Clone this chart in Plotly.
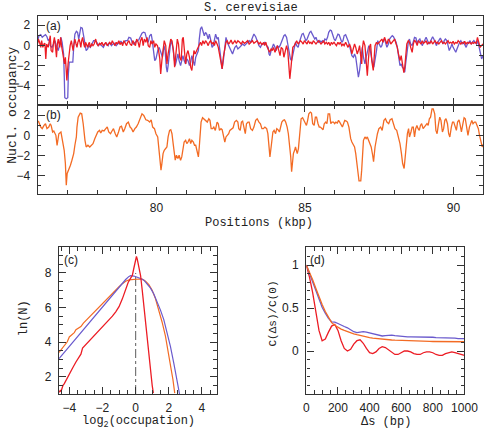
import plotly.graph_objects as go

# ---------------- data ----------------
# panel (a), purple trace: (position kbp, log2 nucleosome occupancy)
purple_a = [
    (76.00, 0.50), (76.04, 0.95), (76.10, 1.05), (76.15, 0.79), (76.21, 0.95), (76.26, 1.05), (76.31, 0.85), (76.35, 0.46), (76.39, 0.62), (76.42, -0.03),
    (76.48, -0.20), (76.53, 0.13), (76.58, 0.46), (76.64, -0.20), (76.69, -0.52), (76.74, 0.13), (76.78, 0.79), (76.82, 0.30), (76.87, -0.85), (76.89, -2.82),
    (76.91, -5.18), (76.96, -5.28), (77.01, -5.18), (77.03, -2.82), (77.06, -1.67), (77.12, -1.67), (77.18, -1.67), (77.21, -0.20), (77.25, 1.11), (77.30, 1.38),
    (77.34, 1.28), (77.38, 0.62), (77.42, 1.61), (77.45, 1.77), (77.50, 1.70), (77.56, 0.62), (77.59, -0.20), (77.63, -0.52), (77.68, -0.36), (77.72, -0.03),
    (77.77, -0.20), (77.83, 0.13), (77.88, 0.46), (77.94, 0.46), (77.99, 0.30), (78.04, -0.03), (78.10, 0.13), (78.15, -0.03), (78.21, -0.20), (78.26, 0.13),
    (78.31, 0.20), (78.37, -0.03), (78.42, 0.30), (78.48, -0.03), (78.53, 0.13), (78.59, 0.20), (78.64, -0.03), (78.69, 0.13), (78.75, 0.30), (78.80, 0.39),
    (78.86, 0.20), (78.91, 0.30), (78.96, 0.46), (79.02, 0.46), (79.07, 0.79), (79.13, 0.72), (79.18, 0.30), (79.23, 0.13), (79.29, 0.30), (79.34, 0.46),
    (79.40, 0.52), (79.45, 0.80), (79.51, 1.20), (79.56, 1.30), (79.61, 1.25), (79.67, 0.62), (79.72, 0.30), (79.77, 0.95), (79.82, 1.11), (79.85, 0.62),
    (79.90, -0.85), (79.94, -1.51), (79.98, -1.34), (80.04, -0.52), (80.09, -0.20), (80.14, -0.69), (80.20, -1.18), (80.25, -0.03), (80.29, -0.52), (80.33, -2.16),
    (80.36, -2.66), (80.39, -2.00), (80.44, -0.52), (80.47, 0.13), (80.50, 0.46), (80.55, -0.20), (80.59, -1.18), (80.63, -2.00), (80.67, -1.51), (80.72, -0.85),
    (80.76, -1.51), (80.81, -2.00), (80.85, -1.51), (80.89, -1.02), (80.93, -1.51), (80.98, -1.84), (81.02, -1.34), (81.06, -1.51), (81.11, -2.00), (81.15, -1.67),
    (81.19, -1.02), (81.24, -1.67), (81.28, -2.00), (81.32, -1.18), (81.37, -0.85), (81.41, -0.52), (81.44, 0.62), (81.48, 1.61), (81.52, 1.84), (81.56, 1.44),
    (81.61, 0.95), (81.65, 1.28), (81.69, 1.11), (81.74, 0.62), (81.78, 1.11), (81.82, 0.62), (81.87, -0.20), (81.91, -0.03), (81.95, 0.46), (81.99, 1.11),
    (82.04, 0.62), (82.08, 0.79), (82.12, -0.20), (82.17, -1.67), (82.21, -2.33), (82.25, -1.51), (82.30, 0.13), (82.34, 0.79), (82.38, 0.30), (82.43, -0.03),
    (82.47, -0.36), (82.51, -0.69), (82.56, -0.85), (82.60, -0.52), (82.64, -0.20), (82.69, -0.03), (82.74, -0.36), (82.80, -0.20), (82.85, -0.03), (82.90, 0.13),
    (82.96, -0.03), (83.01, 0.13), (83.07, 0.30), (83.12, 0.46), (83.17, 0.30), (83.23, 0.79), (83.28, 1.11), (83.34, 0.85), (83.39, 0.46), (83.45, -0.03),
    (83.50, -0.20), (83.55, 0.13), (83.60, 0.13), (83.65, 0.30), (83.71, -0.03), (83.76, -0.20), (83.79, -0.85), (83.82, -1.02), (83.86, -0.52), (83.90, -0.20),
    (83.94, 0.13), (83.99, -0.20), (84.03, -0.52), (84.07, -0.03), (84.12, -0.20), (84.16, -0.03), (84.20, 0.30), (84.25, 0.62), (84.29, 0.95), (84.33, 1.05),
    (84.38, 0.79), (84.42, 0.13), (84.46, -0.52), (84.51, -1.34), (84.55, -1.51), (84.59, -0.85), (84.64, -0.20), (84.68, 0.30), (84.72, -0.03), (84.77, -0.20),
    (84.81, 0.30), (84.85, 0.79), (84.90, 1.11), (84.94, 1.18), (84.98, 0.79), (85.03, 0.46), (85.07, 0.62), (85.11, 0.95), (85.16, 1.28), (85.20, 1.38),
    (85.24, 1.18), (85.28, 0.95), (85.33, 0.62), (85.37, 0.79), (85.41, 0.46), (85.46, 0.30), (85.50, 0.46), (85.54, 0.30), (85.59, 0.46), (85.63, 0.30),
    (85.67, 0.62), (85.72, 0.52), (85.76, 0.79), (85.80, 1.28), (85.85, 1.51), (85.89, 1.44), (85.93, 0.95), (85.98, 0.62), (86.02, 0.46), (86.06, 0.79),
    (86.11, 1.11), (86.15, 1.05), (86.19, 0.62), (86.24, 0.30), (86.28, 0.46), (86.32, 0.95), (86.37, 1.05), (86.41, 0.79), (86.45, 0.46), (86.50, -0.03),
    (86.54, -0.52), (86.58, -1.02), (86.63, -1.18), (86.67, -0.85), (86.71, -1.18), (86.76, -2.16), (86.80, -3.15), (86.84, -2.49), (86.89, -0.85), (86.93, -0.20),
    (86.97, -1.18), (87.02, -1.84), (87.06, -1.18), (87.10, -0.52), (87.15, -0.03), (87.19, -0.36), (87.23, -1.18), (87.28, -1.84), (87.32, -2.16), (87.36, -1.51),
    (87.41, -0.52), (87.45, 0.46), (87.50, 0.13), (87.55, -0.20), (87.59, -0.03), (87.63, 0.46), (87.68, 0.62), (87.72, 0.30), (87.76, -0.20), (87.81, 0.13),
    (87.85, 0.62), (87.89, 0.79), (87.94, 0.95), (87.98, 0.85), (88.02, 0.62), (88.07, 0.30), (88.11, -0.20), (88.15, -1.18), (88.20, -2.00), (88.24, -1.84),
    (88.28, -2.16), (88.33, -2.33), (88.36, -2.66), (88.39, -1.84), (88.43, -0.52), (88.48, 0.30), (88.52, 0.62), (88.56, 0.13), (88.61, -0.03), (88.65, 0.46),
    (88.69, 0.79), (88.74, 0.72), (88.78, 0.13), (88.82, 0.46), (88.87, 0.62), (88.91, 0.30), (88.95, -0.03), (89.00, 0.30), (89.04, 0.62), (89.08, 0.79),
    (89.13, 0.46), (89.17, 0.13), (89.21, 0.30), (89.26, 0.72), (89.30, 0.85), (89.34, 0.62), (89.39, 0.13), (89.43, -0.03), (89.47, 0.30), (89.52, 0.62),
    (89.56, 0.72), (89.60, 0.46), (89.65, 0.13), (89.69, 0.46), (89.73, 0.62), (89.78, 0.46), (89.82, -0.03), (89.86, -0.52), (89.91, -0.20), (89.95, 0.13),
    (89.99, -0.20), (90.04, -0.52), (90.08, -0.69), (90.12, -0.36), (90.17, 0.13), (90.21, 0.30), (90.25, 0.46), (90.30, 0.13), (90.34, 0.30), (90.39, -0.03),
    (90.43, -0.20), (90.47, 0.13), (90.51, 0.30), (90.56, 0.46), (90.60, 0.13), (90.64, 0.30), (90.69, 0.46), (90.73, 0.30), (90.78, 0.13), (90.82, 0.46),
    (90.86, -0.20), (90.90, -0.85), (90.95, -1.34), (91.00, -1.00),
]

# panel (a), red trace: (position kbp, log2 nucleosome occupancy)
red_a = [
    (76.00, 0.20), (76.02, 0.62), (76.06, 0.30), (76.10, -0.20), (76.13, 0.46), (76.17, -0.20), (76.21, 0.13), (76.24, 0.20), (76.27, -1.34), (76.30, 0.13),
    (76.35, -0.20), (76.39, 0.62), (76.42, 0.95), (76.45, -0.52), (76.50, -0.69), (76.53, 0.30), (76.56, 0.79), (76.60, -0.20), (76.63, -1.18), (76.66, 0.13),
    (76.69, 0.62), (76.74, -0.20), (76.77, 0.79), (76.80, -0.03), (76.83, -0.52), (76.87, -1.02), (76.90, -1.84), (76.93, -1.18), (76.96, -2.16), (76.98, -3.48),
    (77.02, -1.84), (77.05, -1.02), (77.09, -0.03), (77.13, 0.46), (77.16, -0.20), (77.19, -0.52), (77.22, 0.13), (77.25, 0.62), (77.29, 0.13), (77.32, -0.20),
    (77.35, 0.30), (77.39, 0.62), (77.42, 0.30), (77.45, -0.20), (77.48, 0.46), (77.51, 0.79), (77.55, 0.13), (77.58, -0.20), (77.61, 0.30), (77.64, -0.03),
    (77.68, -0.20), (77.71, 0.13), (77.74, 0.30), (77.77, -0.20), (77.82, 0.13), (77.86, -0.03), (77.90, 0.13), (77.95, 0.62), (77.99, 0.13), (78.03, -0.03),
    (78.08, 0.20), (78.12, 0.07), (78.16, 0.30), (78.21, -0.03), (78.25, 0.20), (78.29, 0.30), (78.34, -0.03), (78.38, 0.13), (78.42, 0.30), (78.47, 0.07),
    (78.51, 0.46), (78.55, 0.20), (78.60, -0.03), (78.64, 0.30), (78.68, 0.13), (78.73, 0.46), (78.77, 0.07), (78.81, 0.30), (78.86, -0.03), (78.90, 0.46),
    (78.94, 0.20), (78.99, -0.03), (79.03, 0.30), (79.07, 0.46), (79.11, 0.13), (79.16, -0.03), (79.20, 0.46), (79.25, 0.20), (79.29, -0.03), (79.33, 0.62),
    (79.38, 0.30), (79.42, -0.20), (79.46, 0.46), (79.51, 0.79), (79.55, -0.03), (79.59, 0.62), (79.64, 0.30), (79.68, 0.79), (79.72, -0.03), (79.77, -0.20),
    (79.81, 0.46), (79.85, 0.13), (79.90, 0.46), (79.94, -0.20), (79.98, 0.13), (80.03, -0.03), (80.07, -0.52), (80.11, -1.34), (80.14, -2.82), (80.18, -1.51),
    (80.22, -0.52), (80.26, 0.46), (80.31, -0.03), (80.35, -1.84), (80.39, -0.85), (80.44, 0.13), (80.48, 0.62), (80.52, 0.46), (80.57, -0.52), (80.61, -2.16),
    (80.65, -1.18), (80.70, 0.62), (80.74, 0.13), (80.78, -1.18), (80.83, -1.51), (80.87, 0.62), (80.90, 0.79), (80.93, -0.20), (80.98, -1.84), (81.02, -0.85),
    (81.06, -0.52), (81.11, -1.18), (81.15, -2.16), (81.19, -2.49), (81.23, -1.18), (81.26, -0.52), (81.30, -0.85), (81.35, -0.52), (81.39, -0.20), (81.43, -0.03),
    (81.48, 0.30), (81.52, -0.03), (81.56, 0.46), (81.61, 0.13), (81.65, 0.46), (81.69, 0.30), (81.74, -0.03), (81.78, 0.30), (81.82, 0.46), (81.87, 0.13),
    (81.91, 0.30), (81.95, -0.03), (81.99, 0.46), (82.04, 0.13), (82.08, -0.20), (82.12, -0.85), (82.17, -1.84), (82.21, -2.33), (82.25, -1.18), (82.30, -0.03),
    (82.34, 0.30), (82.38, 0.46), (82.43, 0.13), (82.47, 0.30), (82.51, 0.52), (82.56, 0.13), (82.60, 0.30), (82.64, 0.46), (82.69, 0.20), (82.74, 0.46),
    (82.80, 0.30), (82.85, 0.13), (82.90, 0.39), (82.96, 0.20), (83.01, 0.30), (83.07, 0.46), (83.12, 0.13), (83.17, 0.30), (83.23, 0.46), (83.28, 0.20),
    (83.34, 0.30), (83.39, 0.46), (83.45, 0.13), (83.50, 0.30), (83.55, 0.07), (83.61, 0.30), (83.64, -0.03), (83.68, 0.30), (83.73, -0.20), (83.77, -0.52),
    (83.81, -0.69), (83.86, -0.36), (83.90, -0.52), (83.94, -0.20), (83.99, -0.69), (84.03, -0.36), (84.07, -0.03), (84.12, -0.52), (84.16, -1.02), (84.20, -0.20),
    (84.25, -0.36), (84.29, -1.18), (84.33, -0.52), (84.38, -0.03), (84.42, -0.52), (84.46, -1.84), (84.49, -3.31), (84.53, -2.16), (84.56, -0.85), (84.59, -0.20),
    (84.64, -0.03), (84.68, 0.30), (84.72, 0.46), (84.77, 0.13), (84.81, 0.30), (84.85, 0.46), (84.90, 0.30), (84.94, 0.13), (84.98, 0.46), (85.03, 0.30),
    (85.07, 0.13), (85.11, 0.46), (85.16, 0.20), (85.20, 0.30), (85.24, 0.13), (85.28, 0.46), (85.33, 0.30), (85.37, 0.13), (85.41, 0.30), (85.46, 0.46),
    (85.50, 0.30), (85.54, 0.13), (85.59, 0.30), (85.63, 0.46), (85.67, 0.13), (85.72, 0.30), (85.76, 0.13), (85.80, 0.30), (85.85, -0.03), (85.89, 0.30),
    (85.93, 0.13), (85.98, 0.30), (86.02, 0.13), (86.06, -0.03), (86.11, 0.30), (86.15, 0.13), (86.19, 0.30), (86.24, -0.03), (86.28, 0.13), (86.32, -0.03),
    (86.37, 0.30), (86.41, -0.03), (86.45, -0.20), (86.50, 0.13), (86.54, -0.20), (86.58, -0.85), (86.63, -0.36), (86.67, 0.13), (86.71, -0.20), (86.76, -0.85),
    (86.80, -0.52), (86.84, -0.03), (86.87, -0.85), (86.91, -1.84), (86.94, -0.20), (86.97, 0.46), (87.02, -0.03), (87.06, -1.51), (87.10, -3.00), (87.13, -1.67),
    (87.17, -0.20), (87.21, 0.13), (87.25, -1.51), (87.30, -2.49), (87.33, -1.18), (87.36, -0.03), (87.41, 0.30), (87.45, 0.13), (87.50, 0.30), (87.55, 0.46),
    (87.59, 0.62), (87.63, 0.30), (87.68, 0.79), (87.72, 0.46), (87.76, 0.13), (87.81, 0.62), (87.85, 0.46), (87.89, 0.13), (87.94, 0.30), (87.98, 0.46),
    (88.02, 0.62), (88.07, 0.13), (88.11, -0.20), (88.15, -0.85), (88.20, -1.51), (88.24, -1.02), (88.28, -1.84), (88.33, -2.70), (88.36, -2.20), (88.39, -0.85),
    (88.43, 0.13), (88.48, 0.46), (88.52, 0.30), (88.56, -0.20), (88.61, -0.69), (88.65, 0.13), (88.69, 0.52), (88.74, 0.30), (88.78, -0.03), (88.82, 0.46),
    (88.86, 0.30), (88.91, 0.13), (88.95, 0.46), (88.99, 0.20), (89.04, 0.30), (89.08, 0.46), (89.12, 0.13), (89.17, 0.30), (89.21, 0.20), (89.25, 0.46),
    (89.30, 0.13), (89.34, 0.30), (89.38, 0.46), (89.43, 0.20), (89.47, 0.30), (89.51, 0.13), (89.56, 0.30), (89.60, 0.46), (89.64, 0.20), (89.69, 0.30),
    (89.73, 0.13), (89.77, 0.30), (89.82, 0.46), (89.86, 0.20), (89.90, 0.30), (89.95, 0.20), (89.99, 0.39), (90.03, 0.13), (90.08, 0.30), (90.12, 0.20),
    (90.16, 0.46), (90.21, 0.30), (90.25, 0.13), (90.29, 0.30), (90.34, 0.20), (90.38, 0.39), (90.42, 0.13), (90.47, 0.30), (90.51, 0.20), (90.55, 0.30),
    (90.60, 0.13), (90.64, 0.30), (90.68, 0.20), (90.73, 0.30), (90.77, 0.20), (90.81, 0.79), (90.86, 0.30), (90.90, -0.20), (90.95, 0.00), (91.00, 0.13),
]

# panel (b), orange trace: (position kbp, log2 nucleosome occupancy)
orange_b = [
    (76.00, 1.30), (76.02, 1.41), (76.10, 0.82), (76.15, 0.66), (76.21, 0.98), (76.26, 1.15), (76.31, 0.66), (76.37, 0.82), (76.42, 1.15), (76.45, 0.98),
    (76.50, 0.33), (76.54, 0.43), (76.61, 0.00), (76.65, -1.00), (76.71, 0.16), (76.78, 0.33), (76.82, -0.33), (76.89, -1.48), (76.93, -2.79), (76.96, -4.92),
    (76.99, -3.77), (77.04, -3.44), (77.10, -2.95), (77.15, -2.46), (77.21, -1.80), (77.25, -0.98), (77.30, -0.16), (77.32, 0.82), (77.36, 1.80), (77.43, 2.20),
    (77.48, 2.13), (77.53, 1.15), (77.56, 0.16), (77.59, -0.49), (77.63, -1.15), (77.69, -0.98), (77.75, -1.15), (77.80, -0.98), (77.86, -0.82), (77.92, -0.33),
    (77.97, 0.10), (78.02, 0.33), (78.08, 0.49), (78.12, 0.23), (78.17, 0.49), (78.23, 0.43), (78.29, 0.66), (78.34, 0.82), (78.39, 0.33), (78.45, 0.16),
    (78.50, 0.43), (78.55, 0.66), (78.61, 0.16), (78.66, -0.16), (78.72, 0.33), (78.77, 0.82), (78.82, 0.90), (78.88, 0.33), (78.93, 0.66), (78.99, 1.15),
    (79.05, 1.31), (79.11, 0.82), (79.16, 0.66), (79.21, 0.33), (79.27, 0.66), (79.32, 0.82), (79.38, 1.15), (79.45, 1.64), (79.51, 2.13), (79.57, 1.97),
    (79.64, 1.54), (79.70, 1.48), (79.77, 1.31), (79.82, 1.54), (79.87, 0.82), (79.93, 0.66), (79.98, 0.16), (80.04, -0.16), (80.07, -0.98), (80.11, -2.46),
    (80.15, -3.44), (80.18, -2.79), (80.22, -1.80), (80.26, -1.48), (80.31, -1.31), (80.35, -1.15), (80.39, -0.16), (80.44, 0.49), (80.48, 0.56), (80.52, 0.16),
    (80.56, -0.82), (80.59, -1.80), (80.63, -2.46), (80.67, -1.97), (80.72, -2.30), (80.76, -1.97), (80.81, -2.46), (80.85, -2.13), (80.89, -1.15), (80.93, -0.66),
    (80.98, -0.49), (81.02, -0.82), (81.06, -0.66), (81.11, -0.33), (81.15, -0.82), (81.19, -0.49), (81.24, -0.66), (81.28, -0.98), (81.32, -0.98), (81.37, -1.64),
    (81.41, -2.13), (81.44, -1.15), (81.48, 0.16), (81.50, 1.31), (81.55, 1.74), (81.61, 1.54), (81.66, 1.48), (81.71, 1.31), (81.76, 1.64), (81.80, 1.48),
    (81.84, 0.66), (81.89, 0.66), (81.93, 0.82), (81.98, 0.49), (82.04, 1.31), (82.08, 1.15), (82.12, 0.49), (82.17, 0.66), (82.21, 0.56), (82.25, -0.16),
    (82.30, -0.66), (82.34, -0.16), (82.38, 0.00), (82.43, 0.16), (82.47, 0.49), (82.53, 0.66), (82.58, 0.75), (82.63, 1.31), (82.69, 1.48), (82.74, 1.31),
    (82.77, 0.66), (82.82, 0.49), (82.86, 1.31), (82.90, 1.41), (82.95, 0.82), (82.99, 0.16), (83.03, 1.15), (83.08, 1.31), (83.12, 1.31), (83.17, 0.66),
    (83.23, 0.49), (83.28, 0.82), (83.34, 1.48), (83.39, 1.64), (83.45, 1.31), (83.50, 1.15), (83.55, 0.66), (83.60, 0.66), (83.65, 0.82), (83.71, 0.66),
    (83.75, 0.16), (83.79, -1.15), (83.82, -2.13), (83.86, -1.15), (83.89, 0.00), (83.92, 0.33), (83.96, 0.49), (84.01, 0.16), (84.05, 0.66), (84.09, 0.56),
    (84.14, 0.33), (84.18, 0.82), (84.22, 1.31), (84.27, 1.48), (84.31, 1.54), (84.35, 1.31), (84.40, 0.82), (84.44, 0.16), (84.48, -0.82), (84.52, -2.13),
    (84.55, -3.60), (84.58, -2.46), (84.61, -1.80), (84.65, -1.48), (84.68, -1.15), (84.71, -1.48), (84.74, -1.80), (84.78, -1.31), (84.81, -0.16), (84.84, 1.15),
    (84.87, 1.64), (84.92, 1.74), (84.96, 1.48), (85.00, 1.31), (85.05, 0.98), (85.09, 1.48), (85.13, 2.13), (85.18, 2.30), (85.22, 2.20), (85.26, 1.15),
    (85.31, 0.98), (85.35, 1.80), (85.39, 1.80), (85.44, 1.15), (85.48, 0.82), (85.52, 0.82), (85.57, 0.66), (85.61, 0.56), (85.65, 1.15), (85.70, 1.31),
    (85.74, 1.15), (85.78, 2.13), (85.83, 2.13), (85.87, 1.15), (85.91, 1.31), (85.96, 1.31), (86.00, 1.15), (86.04, 1.31), (86.09, 1.21), (86.13, 1.48),
    (86.17, 1.31), (86.22, 0.98), (86.26, 0.82), (86.30, 1.15), (86.34, 1.48), (86.39, 1.41), (86.43, 1.31), (86.48, 0.82), (86.50, 0.16), (86.54, -0.33),
    (86.58, -0.66), (86.63, -0.98), (86.67, -1.15), (86.71, -1.80), (86.76, -2.79), (86.79, -3.77), (86.82, -4.50), (86.88, -4.50), (86.91, -3.44), (86.94, -1.80),
    (86.97, -0.49), (87.02, -0.16), (87.06, -0.33), (87.10, -0.16), (87.15, -0.49), (87.19, -0.82), (87.23, -1.15), (87.28, -1.97), (87.31, -2.60), (87.36, -1.15),
    (87.40, -0.30), (87.44, 0.16), (87.49, 0.66), (87.55, 0.82), (87.60, 0.49), (87.66, 1.48), (87.71, 1.64), (87.76, 1.31), (87.82, 1.15), (87.87, 1.54),
    (87.93, 1.64), (87.98, 1.15), (88.03, 0.66), (88.09, 0.49), (88.14, 0.00), (88.20, -0.82), (88.25, -1.80), (88.29, -2.79), (88.34, -3.28), (88.37, -2.46),
    (88.41, -0.82), (88.45, 0.16), (88.49, 0.66), (88.52, -0.16), (88.57, 0.33), (88.61, 0.82), (88.65, 0.82), (88.69, -0.16), (88.73, 0.66), (88.77, 0.98),
    (88.81, 0.66), (88.85, 0.49), (88.89, 0.98), (88.93, 1.15), (88.98, 0.66), (89.02, 0.82), (89.06, 0.98), (89.11, 1.15), (89.15, 0.98), (89.19, 1.64),
    (89.23, 1.80), (89.28, 2.62), (89.32, 2.62), (89.37, 2.13), (89.41, 0.49), (89.45, 0.16), (89.50, 1.15), (89.54, 1.80), (89.58, 1.48), (89.63, 0.33),
    (89.67, 0.66), (89.71, 1.48), (89.75, 1.64), (89.80, 1.15), (89.84, 0.16), (89.88, -0.16), (89.93, 0.82), (89.97, 1.31), (90.01, 1.31), (90.06, 0.82),
    (90.10, 0.49), (90.14, 1.31), (90.19, 1.54), (90.23, 0.98), (90.27, 0.33), (90.32, 1.15), (90.36, 1.74), (90.40, 1.64), (90.45, 0.82), (90.49, 0.00),
    (90.54, 0.82), (90.58, 1.31), (90.62, 1.48), (90.66, 1.15), (90.71, 1.31), (90.75, 1.31), (90.80, 0.82), (90.84, 0.66), (90.88, 0.00), (90.92, -0.66),
    (90.97, -1.15), (91.00, -0.90),
]

# panel (c): ln(N) vs log2(occupation)
c_red_x = [-4.62, -4.55, -4.50, -4.45, -4.38, -4.30, -4.20, -4.10, -3.95, -3.80, -3.60, -3.40, -3.30, -3.20,
           -3.00, -2.80, -2.60, -2.40, -2.20, -2.00, -1.80, -1.60, -1.40, -1.20, -1.00, -0.80, -0.60, -0.45,
           -0.30, -0.20, -0.10, 0.00, 0.05, 0.10, 0.20, 0.30, 0.40, 0.50, 0.60, 0.70, 0.80, 0.90, 1.00, 1.07]
c_red_y = [1.10, 1.20, 1.15, 1.35, 1.50, 1.60, 1.80, 2.00, 2.30, 2.50, 2.85, 3.20, 3.30, 3.65,
           3.85, 4.05, 4.30, 4.50, 4.70, 4.90, 5.10, 5.30, 5.50, 5.75, 6.05, 6.50, 7.00, 7.45,
           7.70, 7.85, 8.30, 8.85, 8.95, 8.80, 8.35, 7.85, 7.00, 6.10, 5.10, 4.00, 3.00, 2.10, 1.50, 1.05]
c_orange_x = [-4.62, -4.50, -4.30, -4.12, -4.00, -3.85, -3.70, -3.60, -3.45, -3.30, -3.15, -3.00, -2.80, -2.60,
              -2.40, -2.20, -2.00, -1.80, -1.60, -1.40, -1.20, -1.00, -0.80, -0.60, -0.40, -0.20, 0.00, 0.20,
              0.40, 0.60, 0.80, 1.00, 1.20, 1.40, 1.60, 1.80, 1.95, 2.05, 2.15, 2.25, 2.36]
c_orange_y = [3.40, 3.55, 3.80, 4.02, 4.30, 4.45, 4.55, 4.72, 4.80, 4.90, 5.10, 5.25, 5.45, 5.62,
              5.85, 6.02, 6.25, 6.42, 6.60, 6.85, 7.03, 7.20, 7.38, 7.52, 7.60, 7.63, 7.64, 7.65,
              7.64, 7.52, 7.32, 7.00, 6.50, 5.85, 5.15, 4.35, 3.60, 3.00, 2.40, 1.85, 1.05]
c_purple_x = [-4.62, -4.40, -4.20, -4.00, -3.80, -3.60, -3.40, -3.20, -3.00, -2.80, -2.60, -2.40, -2.20, -2.00,
              -1.80, -1.60, -1.40, -1.20, -1.00, -0.80, -0.60, -0.40, -0.30, -0.10, 0.10, 0.30, 0.50, 0.70,
              0.90, 1.10, 1.30, 1.50, 1.70, 1.90, 2.10, 2.30, 2.45, 2.55, 2.65]
c_purple_y = [3.05, 3.30, 3.55, 3.75, 3.97, 4.20, 4.43, 4.65, 4.87, 5.10, 5.32, 5.55, 5.77, 6.00,
              6.22, 6.44, 6.67, 6.90, 7.13, 7.40, 7.62, 7.80, 7.84, 7.82, 7.77, 7.68, 7.58, 7.38,
              7.12, 6.78, 6.35, 5.85, 5.30, 4.60, 3.75, 2.80, 2.00, 1.50, 1.00]
c_ref_x = 0.0           # dash-dot reference at log2(occupation) = 0
c_ref_top = 8.0

# panel (d): autocorrelation C(ds)/C(0)
d_lag = [0, 20, 40, 60, 80, 100, 120, 140, 160, 180, 200, 220, 240, 260, 280, 300, 320, 340, 360, 380,
         400, 420, 440, 460, 480, 500, 520, 540, 560, 580, 600, 620, 640, 660, 680, 700, 720, 740, 760, 780,
         800, 820, 840, 860, 880, 900, 920, 940, 960, 980, 1000]
d_red = [1.00, 0.86, 0.68, 0.45, 0.24, 0.12, 0.14, 0.22, 0.29, 0.31, 0.24, 0.12, 0.03, 0.00, 0.02, 0.08, 0.12, 0.13, 0.09, 0.03,
         -0.02, -0.03, -0.01, 0.03, 0.05, 0.04, 0.01, -0.02, -0.04, -0.04, -0.02, 0.00, 0.00, -0.01, -0.03, -0.04, -0.04, -0.02, -0.01, -0.01,
         -0.02, -0.04, -0.05, -0.05, -0.03, -0.02, -0.01, -0.02, -0.03, -0.04, -0.05]
d_purple = [1.00, 0.90, 0.80, 0.70, 0.59, 0.51, 0.44, 0.38, 0.34, 0.335, 0.32, 0.30, 0.285, 0.27, 0.25, 0.225, 0.215, 0.22, 0.225, 0.22,
            0.21, 0.20, 0.19, 0.18, 0.175, 0.18, 0.185, 0.185, 0.18, 0.175, 0.17, 0.165, 0.165, 0.165, 0.165, 0.165, 0.165, 0.165, 0.16, 0.16,
            0.16, 0.155, 0.155, 0.155, 0.155, 0.15, 0.15, 0.15, 0.145, 0.145, 0.145]
d_orange = [1.00, 0.92, 0.83, 0.73, 0.63, 0.54, 0.46, 0.39, 0.33, 0.30, 0.275, 0.255, 0.24, 0.225, 0.21, 0.20, 0.19, 0.18, 0.17, 0.16,
            0.155, 0.15, 0.145, 0.14, 0.137, 0.134, 0.131, 0.128, 0.126, 0.124, 0.122, 0.12, 0.119, 0.118, 0.117, 0.116, 0.115, 0.114, 0.113, 0.112,
            0.111, 0.111, 0.11, 0.11, 0.11, 0.109, 0.109, 0.109, 0.108, 0.108, 0.108]

# ---------------- style ----------------
PURPLE = "#6a5acd"
RED = "#ec1c24"
ORANGE = "#f36b24"
FRAME = "#333333"
TICKFONT = dict(family="Liberation Sans", size=12, color="#222222")
TITLEFONT = dict(family="Liberation Mono", size=12, color="#222222")


def axis(domain, rng, anchor, minor_dtick, minor_tick0, standoff, **kw):
    d = dict(domain=domain, range=rng, anchor=anchor, showline=True, linecolor=FRAME, linewidth=1.4,
             mirror="allticks", ticks="inside", ticklen=7, tickwidth=1.1, tickcolor=FRAME,
             showgrid=False, zeroline=False, tickfont=TICKFONT, ticklabelstandoff=standoff,
             minor=dict(ticks="inside", ticklen=3.5, tickwidth=1, tickcolor=FRAME,
                        dtick=minor_dtick, tick0=minor_tick0, showgrid=False))
    d.update(kw)
    return d


def unzip(points):
    return [p[0] for p in points], [p[1] for p in points]


fig = go.Figure()
px_, py_ = unzip(purple_a)
rx_, ry_ = unzip(red_a)
ox_, oy_ = unzip(orange_b)

fig.add_trace(go.Scatter(x=px_, y=py_, mode="lines", line=dict(color=PURPLE, width=1.3), xaxis="x", yaxis="y"))
fig.add_trace(go.Scatter(x=rx_, y=ry_, mode="lines", line=dict(color=RED, width=1.3), xaxis="x", yaxis="y"))
fig.add_trace(go.Scatter(x=ox_, y=oy_, mode="lines", line=dict(color=ORANGE, width=1.3), xaxis="x2", yaxis="y2"))

fig.add_trace(go.Scatter(x=c_orange_x, y=c_orange_y, mode="lines", line=dict(color=ORANGE, width=1.2), xaxis="x3", yaxis="y3"))
fig.add_trace(go.Scatter(x=c_purple_x, y=c_purple_y, mode="lines", line=dict(color=PURPLE, width=1.2), xaxis="x3", yaxis="y3"))
fig.add_trace(go.Scatter(x=c_red_x, y=c_red_y, mode="lines", line=dict(color=RED, width=1.3), xaxis="x3", yaxis="y3"))

fig.add_trace(go.Scatter(x=d_lag, y=d_red, mode="lines", line=dict(color=RED, width=1.3), xaxis="x4", yaxis="y4"))
fig.add_trace(go.Scatter(x=d_lag, y=d_purple, mode="lines", line=dict(color=PURPLE, width=1.3), xaxis="x4", yaxis="y4"))
fig.add_trace(go.Scatter(x=d_lag, y=d_orange, mode="lines", line=dict(color=ORANGE, width=1.3), xaxis="x4", yaxis="y4"))

W, H = 500, 434
dom_x_top = [36 / W, 497 / W]
dom_y_a = [1 - 105 / H, 1 - 16 / H]
dom_y_b = [1 - 194 / H, 1 - 105 / H]
dom_x_c = [58 / W, 221.7 / W]
dom_x_d = [314 / W, 477.7 / W]
dom_y_cd = [1 - 394 / H, 1 - 247 / H]
XS, YS = 2, 4   # tick-label standoffs for x and y axes

fig.update_layout(
    width=W, height=H, margin=dict(l=0, r=0, t=0, b=0),
    paper_bgcolor="white", plot_bgcolor="white", showlegend=False,
    xaxis=axis(dom_x_top, [76, 91], "y", 1, 76, XS, tickmode="linear", tick0=80, dtick=5, showticklabels=False),
    yaxis=axis(dom_y_a, [-5.9, 2.9], "x", 1, 0, YS, tickvals=[-4, -2, 0, 2]),
    xaxis2=axis(dom_x_top, [76, 91], "y2", 1, 76, XS, tickmode="linear", tick0=80, dtick=5),
    yaxis2=axis(dom_y_b, [-5.8, 3.0], "x2", 1, 0, YS, tickvals=[-4, -2, 0, 2]),
    xaxis3=axis(dom_x_c, [-4.62, 4.92], "y3", 0.5, 0, XS, tickvals=[-4, -2, 0, 2, 4]),
    yaxis3=axis(dom_y_cd, [1.0, 9.5], "x3", 0.5, 0, YS, tickvals=[2, 4, 6, 8]),
    xaxis4=axis(dom_x_d, [0, 1000], "y4", 50, 0, XS, tickvals=[0, 200, 400, 600, 800, 1000]),
    yaxis4=axis(dom_y_cd, [-0.5, 1.21], "x4", 0.1, 0, YS, tickvals=[0, 0.5, 1], ticktext=["0", "0.5", "1"]),
)

fig.add_shape(type="line", xref="x3", yref="y3", x0=c_ref_x, x1=c_ref_x, y0=1.0, y1=c_ref_top,
              line=dict(color="#777777", width=1.2, dash="dashdot"), layer="below")


def note(text, xpx, ypx, font, angle=0):
    fig.add_annotation(text=text, xref="paper", yref="paper", x=xpx / W, y=1 - ypx / H,
                       xanchor="center", yanchor="middle", showarrow=False, font=font, textangle=angle)


LABELFONT = dict(family="Liberation Sans", size=12, color="#222222")
note("S. cerevisiae", 257, 8, TITLEFONT)
note("Nucl. occupancy", 9, 105, dict(TITLEFONT, size=13), -90)
note("Positions (kbp)", 265, 223, TITLEFONT)
note("ln(N)", 22, 318, TITLEFONT, -90)
note("log<sub>2</sub>(occupation)", 140, 422, TITLEFONT)
note("C(Δs)/C(0)", 279, 314, dict(TITLEFONT, size=11), -90)
note("Δs (bp)", 396, 422, TITLEFONT)
note("(a)", 52, 26, LABELFONT)
note("(b)", 52, 115, LABELFONT)
note("(c)", 70, 260, LABELFONT)
note("(d)", 326, 260, LABELFONT)

# no mode bar; remove the browser's default 8px page margin so the figure sits at the window origin
fig.write_html("out.html", config={"displayModeBar": False},
               post_script="document.body.style.margin='0px';")
